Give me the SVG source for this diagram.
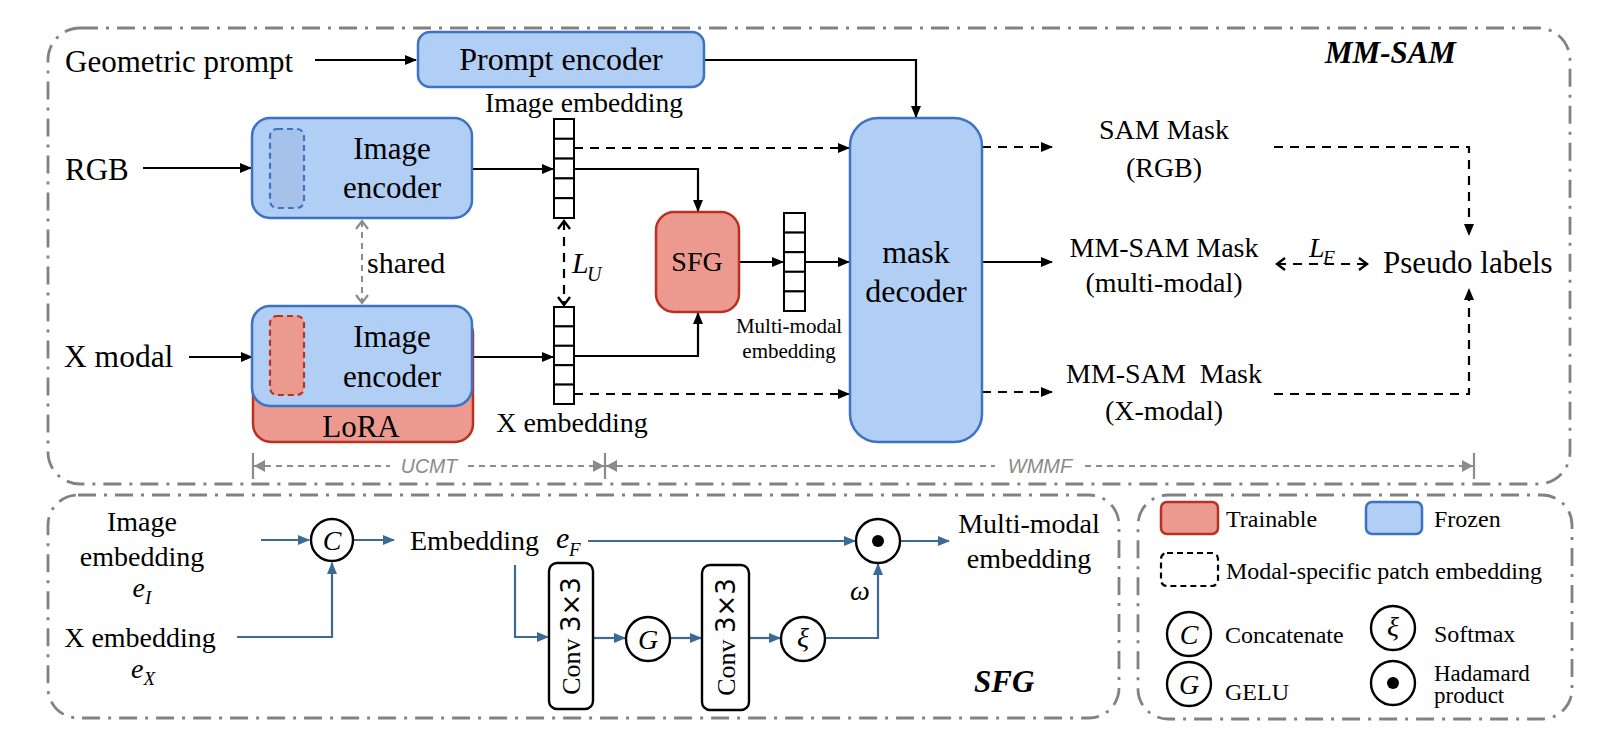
<svg xmlns="http://www.w3.org/2000/svg" width="1604" height="734" viewBox="0 0 1604 734">
<defs>
<style>
text{font-family:"Liberation Serif","Times New Roman",serif;fill:#000}
.it{font-style:italic}
.sans{font-family:"Liberation Sans",Arial,sans-serif;font-style:italic;fill:#8a8a8a}
.frame{fill:none;stroke:#828282;stroke-width:2.8;stroke-dasharray:18 8 3 8}
.blue{fill:#b1cef4;stroke:#3d72c5;stroke-width:2.5}
.red{fill:#ec9a8f;stroke:#b93221;stroke-width:2.5}
.ln{fill:none;stroke:#000;stroke-width:2.2}
.dl{fill:none;stroke:#000;stroke-width:2.2;stroke-dasharray:9 7}
.gl{fill:none;stroke:#8c8c8c;stroke-width:2;stroke-dasharray:6 5}
.bl{fill:none;stroke:#3b6a94;stroke-width:2.2}
.cell{fill:#fff;stroke:#000;stroke-width:2}
.circ{fill:#fff;stroke:#000;stroke-width:2.4}
.conv{fill:#fff;stroke:#000;stroke-width:2.4}
</style>
<marker id="ah" markerWidth="12" markerHeight="10" refX="11" refY="5" orient="auto" markerUnits="userSpaceOnUse"><path d="M0,0 L12,5 L0,10 z" fill="#000"/></marker>
<marker id="ch" markerWidth="12" markerHeight="14" refX="10" refY="7" orient="auto-start-reverse" markerUnits="userSpaceOnUse"><path d="M2,1 L10,7 L2,13" fill="none" stroke="#000" stroke-width="2.4"/></marker>
<marker id="gch" markerWidth="12" markerHeight="14" refX="10" refY="7" orient="auto-start-reverse" markerUnits="userSpaceOnUse"><path d="M2,1 L10,7 L2,13" fill="none" stroke="#8c8c8c" stroke-width="2.2"/></marker>
<marker id="bah" markerWidth="12" markerHeight="10" refX="11" refY="5" orient="auto" markerUnits="userSpaceOnUse"><path d="M0,0 L12,5 L0,10 z" fill="#3b6a94"/></marker>
<marker id="gah" markerWidth="12" markerHeight="12" refX="11" refY="6" orient="auto-start-reverse" markerUnits="userSpaceOnUse"><path d="M0,0 L11,6 L0,12 z" fill="#8c8c8c"/></marker>
</defs>
<rect width="1604" height="734" fill="#fff"/>

<!-- frames -->
<g id="frame-mmsam"><rect class="frame" x="48" y="28" width="1522" height="456" rx="32"/>
<text x="1325" y="63" font-size="31" font-weight="bold" font-style="italic">MM-SAM</text></g>
<g id="frame-sfg"><rect class="frame" x="48" y="495" width="1071" height="223" rx="30"/>
<text x="974" y="692" font-size="31" font-weight="bold" font-style="italic">SFG</text></g>
<g id="frame-legend"><rect class="frame" x="1138" y="495" width="434" height="224" rx="30"/></g>

<!-- connectors -->
<g id="connectors">
<path class="ln" d="M315,60 H416" marker-end="url(#ah)"/>
<path class="ln" d="M704,60 H916 V117" marker-end="url(#ah)"/>
<path class="ln" d="M143,168 H251" marker-end="url(#ah)"/>
<path class="ln" d="M472,169 H553" marker-end="url(#ah)"/>
<path class="ln" d="M574,169 H698 V211" marker-end="url(#ah)"/>
<path class="dl" d="M574,148 H849" marker-end="url(#ah)"/>
<path class="ln" d="M189,357 H252" marker-end="url(#ah)"/>
<path class="ln" d="M472,357 H553" marker-end="url(#ah)"/>
<path class="ln" d="M574,356 H698 V313" marker-end="url(#ah)"/>
<path class="dl" d="M574,394 H849" marker-end="url(#ah)"/>
<path class="ln" d="M739,262 H783" marker-end="url(#ah)"/>
<path class="ln" d="M805,262 H849" marker-end="url(#ah)"/>
<path class="dl" d="M564,221 V305" marker-start="url(#ch)" marker-end="url(#ch)"/>
<path class="gl" d="M362,221 V303" marker-start="url(#gch)" marker-end="url(#gch)"/>
<path class="dl" d="M982,147 H1052" marker-end="url(#ah)"/>
<path class="ln" d="M982,262 H1052" marker-end="url(#ah)"/>
<path class="dl" d="M982,392 H1052" marker-end="url(#ah)"/>
<path class="dl" d="M1274,147 H1469 V235" marker-end="url(#ah)"/>
<path class="dl" d="M1274,394 H1469 V289" marker-end="url(#ah)"/>
<path class="dl" d="M1277,264 H1367" marker-start="url(#ch)" marker-end="url(#ch)"/>
<!-- UCMT / WMMF -->
<path class="gl" d="M254,466 H390" marker-start="url(#gah)"/>
<path class="gl" d="M468,466 H604" marker-end="url(#gah)"/>
<path class="gl" d="M606,466 H995" marker-start="url(#gah)"/>
<path class="gl" d="M1085,466 H1473" marker-end="url(#gah)"/>
<path d="M253,453 V479 M605,453 V479 M1474,453 V479" stroke="#8c8c8c" stroke-width="2.2" fill="none"/>
<!-- SFG blue -->
<path class="bl" d="M261,540 H309" marker-end="url(#bah)"/>
<path class="bl" d="M237,637 H332 V563" marker-end="url(#bah)"/>
<path class="bl" d="M354,540 H394" marker-end="url(#bah)"/>
<path class="bl" d="M588,541 H855" marker-end="url(#bah)"/>
<path class="bl" d="M900,541 H949" marker-end="url(#bah)"/>
<path class="bl" d="M515,565 V637 H548" marker-end="url(#bah)"/>
<path class="bl" d="M593,638 H625" marker-end="url(#bah)"/>
<path class="bl" d="M670,638 H701" marker-end="url(#bah)"/>
<path class="bl" d="M749,638 H780" marker-end="url(#bah)"/>
<path class="bl" d="M825,638 H878 V564" marker-end="url(#bah)"/>
</g>

<!-- top section nodes -->
<g id="geo-prompt"><text x="65" y="72" font-size="31">Geometric prompt</text></g>
<g id="prompt-encoder"><rect class="blue" x="418" y="32" width="286" height="55" rx="12"/>
<text x="561" y="70" font-size="32" text-anchor="middle">Prompt encoder</text></g>
<g id="rgb"><text x="65" y="180" font-size="31">RGB</text></g>
<g id="xmodal"><text x="64" y="367" font-size="31.5">X modal</text></g>
<g id="rgb-encoder"><rect class="blue" x="252" y="118" width="220" height="100" rx="18"/>
<rect x="270" y="129" width="34" height="79" rx="7" fill="#a6c2ea" stroke="#3d72c5" stroke-width="2.2" stroke-dasharray="6 4"/>
<text x="392" y="159" font-size="31" text-anchor="middle">Image</text>
<text x="392" y="198" font-size="31" text-anchor="middle">encoder</text></g>
<g id="shared-label"><text x="367" y="273" font-size="30">shared</text></g>
<g id="x-encoder"><rect class="red" x="253" y="316" width="220" height="126" rx="18"/>
<text x="361" y="437" font-size="31" text-anchor="middle">LoRA</text>
<rect class="blue" x="252" y="306" width="220" height="100" rx="18"/>
<rect x="270" y="316" width="34" height="79" rx="7" fill="#ec9a8f" stroke="#b93221" stroke-width="2.2" stroke-dasharray="6 4"/>
<text x="392" y="347" font-size="31" text-anchor="middle">Image</text>
<text x="392" y="387" font-size="31" text-anchor="middle">encoder</text></g>
<g id="image-embedding"><text x="584" y="112" font-size="27.5" text-anchor="middle">Image embedding</text>
<rect class="cell" x="554" y="119" width="20" height="19.8"/><rect class="cell" x="554" y="138.8" width="20" height="19.8"/><rect class="cell" x="554" y="158.6" width="20" height="19.8"/><rect class="cell" x="554" y="178.4" width="20" height="19.8"/><rect class="cell" x="554" y="198.2" width="20" height="19.8"/></g>
<g id="x-embedding"><rect class="cell" x="554" y="307" width="20" height="19.4"/><rect class="cell" x="554" y="326.4" width="20" height="19.4"/><rect class="cell" x="554" y="345.8" width="20" height="19.4"/><rect class="cell" x="554" y="365.2" width="20" height="19.4"/><rect class="cell" x="554" y="384.6" width="20" height="19.4"/>
<text x="572" y="432" font-size="28" text-anchor="middle">X embedding</text></g>
<g id="lu-label"><text class="it" x="572" y="273" font-size="30">L</text><text class="it" x="587" y="281" font-size="20">U</text></g>
<g id="sfg-node"><rect class="red" x="656" y="212" width="83" height="100" rx="18"/>
<text x="697" y="271" font-size="28" text-anchor="middle">SFG</text></g>
<g id="mm-embedding"><rect class="cell" x="784" y="213" width="21" height="19.6"/><rect class="cell" x="784" y="232.6" width="21" height="19.6"/><rect class="cell" x="784" y="252.2" width="21" height="19.6"/><rect class="cell" x="784" y="271.8" width="21" height="19.6"/><rect class="cell" x="784" y="291.4" width="21" height="19.6"/>
<text x="789" y="333" font-size="21" text-anchor="middle">Multi-modal</text>
<text x="789" y="358" font-size="21" text-anchor="middle">embedding</text></g>
<g id="mask-decoder"><rect class="blue" x="850" y="118" width="132" height="324" rx="28"/>
<text x="916" y="263" font-size="32" text-anchor="middle">mask</text>
<text x="916" y="302" font-size="32" text-anchor="middle">decoder</text></g>
<g id="sam-mask"><text x="1164" y="139" font-size="28" text-anchor="middle">SAM Mask</text>
<text x="1164" y="177" font-size="28" text-anchor="middle">(RGB)</text></g>
<g id="mm-mask"><text x="1164" y="257" font-size="28" text-anchor="middle">MM-SAM Mask</text>
<text x="1164" y="292" font-size="28" text-anchor="middle">(multi-modal)</text></g>
<g id="x-mask"><text x="1164" y="383" font-size="28" text-anchor="middle">MM-SAM&#160; Mask</text>
<text x="1164" y="420" font-size="28" text-anchor="middle">(X-modal)</text></g>
<g id="lf-label"><text class="it" x="1309" y="257" font-size="28">L</text><text class="it" x="1323" y="264" font-size="19">F</text></g>
<g id="pseudo"><text x="1383" y="273" font-size="31">Pseudo labels</text></g>
<g id="ucmt-label"><text class="sans" x="429" y="473" font-size="19.5" text-anchor="middle">UCMT</text></g>
<g id="wmmf-label"><text class="sans" x="1040" y="473" font-size="20" text-anchor="middle">WMMF</text></g>

<!-- SFG section nodes -->
<g id="sfg-img-emb"><text x="142" y="531" font-size="28" text-anchor="middle">Image</text>
<text x="142" y="566" font-size="28" text-anchor="middle">embedding</text>
<text x="142" y="597" font-size="28" text-anchor="middle"><tspan class="it">e</tspan><tspan class="it" font-size="19" dy="7">I</tspan></text></g>
<g id="sfg-x-emb"><text x="140" y="647" font-size="28" text-anchor="middle">X embedding</text>
<text x="143" y="678" font-size="28" text-anchor="middle"><tspan class="it">e</tspan><tspan class="it" font-size="19" dy="7">X</tspan></text></g>
<g id="concat"><circle class="circ" cx="332" cy="540" r="21"/><text class="it" x="332" y="550" font-size="28" text-anchor="middle">C</text></g>
<g id="emb-ef"><text x="410" y="550" font-size="28">Embedding</text>
<text class="it" x="556" y="548" font-size="30">e</text><text class="it" x="569" y="556" font-size="19">F</text></g>
<g id="conv1"><rect class="conv" x="549" y="563" width="44" height="146" rx="8"/>
<text transform="translate(571,636) rotate(-90)" y="9" font-size="26" text-anchor="middle">Conv <tspan font-family="DejaVu Sans, sans-serif">3×3</tspan></text></g>
<g id="gelu"><circle class="circ" cx="648" cy="639" r="22"/><text class="it" x="648" y="649" font-size="28" text-anchor="middle">G</text></g>
<g id="conv2"><rect class="conv" x="702" y="565" width="47" height="145" rx="8"/>
<text transform="translate(725.5,637) rotate(-90)" y="9" font-size="26" text-anchor="middle">Conv <tspan font-family="DejaVu Sans, sans-serif">3×3</tspan></text></g>
<g id="softmax"><circle class="circ" cx="803" cy="639" r="22"/><text class="it" x="803" y="647" font-size="28" text-anchor="middle">ξ</text></g>
<g id="omega"><text class="it" x="850" y="600" font-size="28">ω</text></g>
<g id="hadamard"><circle class="circ" cx="878" cy="541" r="22"/><circle cx="878" cy="541" r="6" fill="#000"/></g>
<g id="mm-out"><text x="1029" y="533" font-size="28" text-anchor="middle">Multi-modal</text>
<text x="1029" y="568" font-size="28" text-anchor="middle">embedding</text></g>

<!-- legend -->
<g id="legend-trainable"><rect class="red" x="1161" y="502" width="57" height="32" rx="6"/><text x="1226" y="527" font-size="24">Trainable</text></g>
<g id="legend-frozen"><rect class="blue" x="1366" y="502" width="56" height="32" rx="6"/><text x="1434" y="527" font-size="24">Frozen</text></g>
<g id="legend-patch"><rect x="1161" y="553" width="57" height="33" rx="6" fill="none" stroke="#000" stroke-width="2.2" stroke-dasharray="6 4"/><text x="1226" y="579" font-size="24">Modal-specific patch embedding</text></g>
<g id="legend-concat"><circle class="circ" cx="1189" cy="634" r="22"/><text class="it" x="1189" y="644" font-size="28" text-anchor="middle">C</text><text x="1225" y="643" font-size="24">Concatenate</text></g>
<g id="legend-gelu"><circle class="circ" cx="1189" cy="684" r="22"/><text class="it" x="1189" y="694" font-size="28" text-anchor="middle">G</text><text x="1225" y="700" font-size="24">GELU</text></g>
<g id="legend-softmax"><circle class="circ" cx="1393" cy="628" r="22"/><text class="it" x="1393" y="636" font-size="28" text-anchor="middle">ξ</text><text x="1434" y="642" font-size="24">Softmax</text></g>
<g id="legend-hadamard"><circle class="circ" cx="1393" cy="683" r="22"/><circle cx="1393" cy="683" r="6" fill="#000"/><text x="1434" y="681" font-size="23">Hadamard</text><text x="1434" y="703" font-size="23">product</text></g>
</svg>
